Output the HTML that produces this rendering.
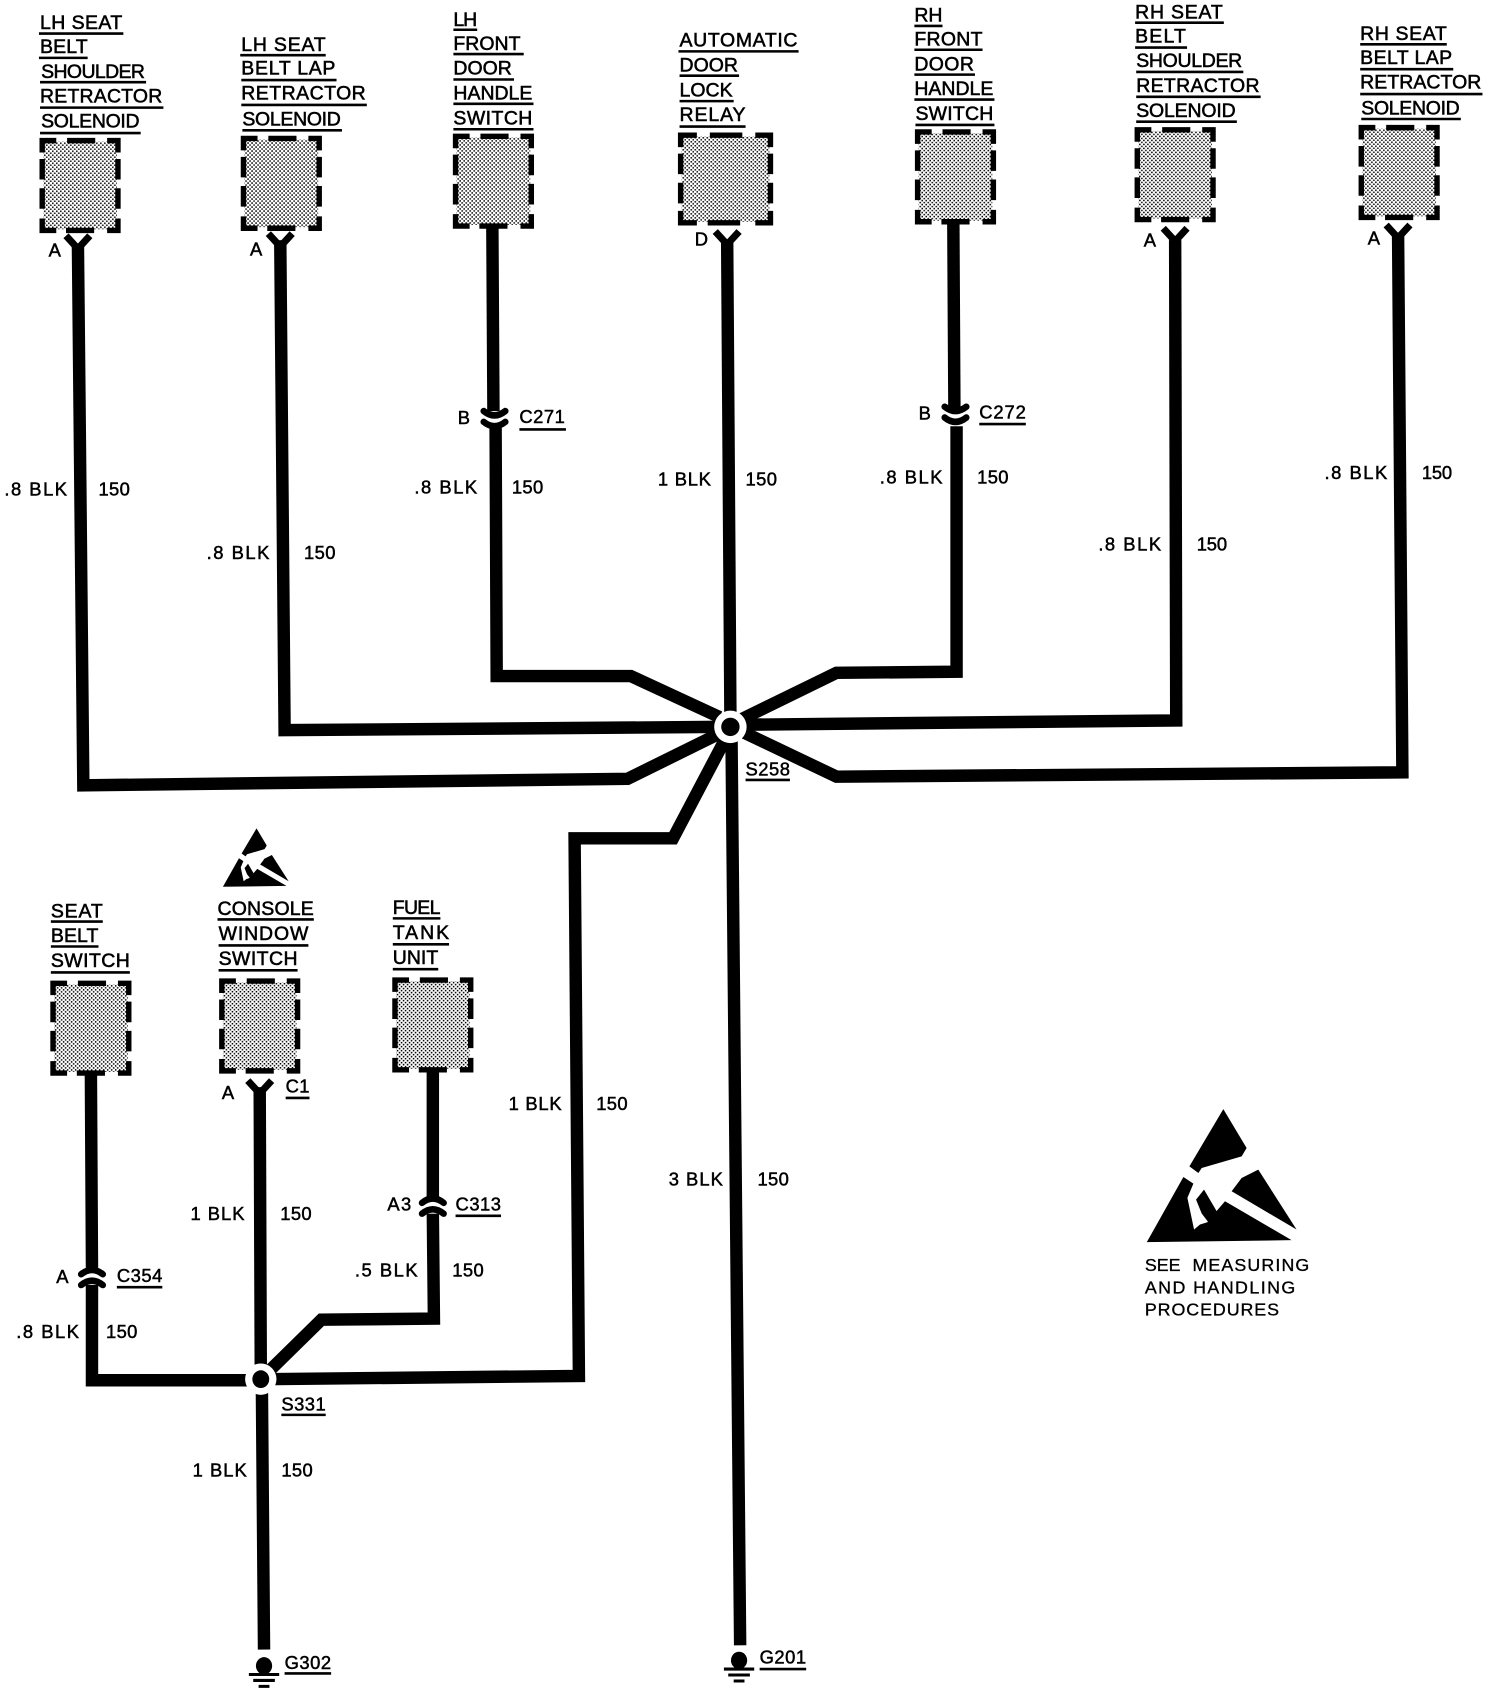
<!DOCTYPE html>
<html><head><meta charset="utf-8"><title>Wiring diagram</title>
<style>
html,body{margin:0;padding:0;background:#fff;width:1504px;height:1696px;overflow:hidden}
svg{display:block}
text{font-family:"Liberation Sans",sans-serif;fill:#000;stroke:#000;stroke-width:.5}
.c text{font-size:18px}
.w text{font-size:17px;stroke-width:.45}
.n text{font-size:16.5px;stroke-width:.3}
.wire{fill:none;stroke:#000;stroke-width:11.5;stroke-linejoin:miter}
</style></head><body>
<svg width="1504" height="1696" viewBox="0 0 1389.9 1567.9" preserveAspectRatio="none" xmlns="http://www.w3.org/2000/svg">
<defs>
<pattern id="st" width="3.7" height="3.7" patternUnits="userSpaceOnUse">
<rect width="3.7" height="3.7" fill="#fff"/>
<rect x="0" y="0" width="1.4" height="1.4" fill="#000"/>
<rect x="1.85" y="1.85" width="1.4" height="1.4" fill="#000"/>
</pattern>
<g id="box">
<rect x="3" y="3" width="68" height="81" fill="url(#st)"/>
<path d="M2,13V2H15M25,2H51M62,2H72V13M2,19V38M72,19V38M2,46V65M72,46V65M2,74V85H15M24,85H50M62,85H72V74" fill="none" stroke="#000" stroke-width="5"/>
</g>
<g id="boxw">
<rect x="3" y="3" width="81" height="79" fill="url(#st)"/>
<path d="M2,13V2H17M29,2H59M71,2H85V13M2,19V38M85,19V38M2,46V65M85,46V65M2,72V83H17M27,83H57M71,83H85V72" fill="none" stroke="#000" stroke-width="5"/>
</g>
<path id="y" d="M-11,-8L0,4L11,-8" fill="none" stroke="#000" stroke-width="6.5"/>
<g id="cd" fill="none" stroke="#000" stroke-width="6" stroke-linecap="round"><path d="M-10,-7Q0,1 10,-7"/><path d="M-10,3Q0,11 10,3"/></g>
<g id="cu" fill="none" stroke="#000" stroke-width="6" stroke-linecap="round"><path d="M-10,7Q0,-1 10,7"/><path d="M-10,-3Q0,-11 10,-3"/></g>
<g id="gnd"><ellipse cx="0" cy="0" rx="7.5" ry="8" fill="#000"/><path d="M-14,8H14M-10,13.500H10M-5,19H5" stroke="#000" stroke-width="2.8" fill="none"/></g>
<g id="esd" fill="#000">
<path d="M310,58L380,175L365,200L245,235L235,250L208,230Z"/>
<path d="M415,240L530,420L335,305L365,265Z"/>
<path d="M80,458L190,262L220,282L202,325L222,420L240,405L262,398L285,370L315,335L515,452Z"/>
<path d="M228,330L252,300L290,365L265,398L245,372Z"/>
</g>
</defs>

<rect width="1389.9" height="1567.9" fill="#fff"/>

<!-- wires -->
<g class="wire">
<polyline points="72,225 77,726 580,720 665,678"/>
<polyline points="259,222 263,675 665,672"/>
<polyline points="455,208 456,380"/>
<polyline points="458,394 459,625 583,625 665,663"/>
<polyline points="672,222 675,662"/>
<polyline points="881,205 882,378"/>
<polyline points="884,394 884,621 773,622 685,665"/>
<polyline points="1086,222 1087,666 685,670"/>
<polyline points="1292,215 1296,714 773,718 685,676"/>
<polyline points="245,1275 535,1272 531,775 622,775 672,680"/>
<polyline points="676,680 684,1521"/>
<polyline points="84,992 85,1172"/>
<polyline points="85,1188 85,1276 235,1276"/>
<polyline points="240,1005 241,1268"/>
<polyline points="400,990 400,1108"/>
<polyline points="400,1122 401,1219 297,1220 243,1273"/>
<polyline points="242,1280 244,1525"/>
</g>

<!-- splices -->
<circle cx="675" cy="672" r="15" fill="#fff"/><circle cx="675" cy="672" r="8.500" fill="#000"/>
<circle cx="241" cy="1275" r="14.500" fill="#fff"/><ellipse cx="241" cy="1275" rx="7.800" ry="8.200" fill="#000"/>

<!-- boxes -->
<use href="#box" x="37" y="128"/>
<use href="#box" x="223" y="126"/>
<use href="#box" x="419" y="124"/>
<use href="#boxw" x="627" y="123"/>
<use href="#box" x="846" y="120"/>
<use href="#box" x="1049" y="118"/>
<use href="#box" x="1256" y="116"/>
<use href="#box" x="47" y="907"/>
<use href="#box" x="203" y="905"/>
<use href="#box" x="363" y="904"/>

<!-- connectors -->
<use href="#y" x="72" y="226"/>
<use href="#y" x="259" y="224"/>
<use href="#y" x="672" y="222"/>
<use href="#y" x="1086" y="219"/>
<use href="#y" x="1292" y="216"/>
<use href="#y" x="240" y="1007"/>
<use href="#cd" x="457" y="387"/>
<use href="#cd" x="883" y="383"/>
<use href="#cu" x="85" y="1181"/>
<use href="#cu" x="400" y="1115"/>

<!-- ground -->
<use href="#gnd" x="244" y="1540"/>
<use href="#gnd" x="683" y="1535"/>

<!-- ESD -->
<use href="#esd" transform="translate(1035.200,1007.500) scale(.3075)"/>
<use href="#esd" transform="translate(195.200,758) scale(.135)"/>

<!-- underlines -->
<path fill="none" stroke="#000" stroke-width="2.4" d="
M36,31H114M36,53.500H81M37,76H135M37,99.500H151M37,123H130
M222,51H301M223,74H311M223,97H339M224,120.500H316
M419,27.500H441M419,50H484M419,73.500H475M419,96H493M419,119.500H493
M627,47.500H738M628,70H683M628,93.500H678M628,117H689
M845,24H871M845,46H908M845,69H901M845,92H919M846,115.500H919
M1049,21H1131M1049,44H1097M1050,66.500H1149M1050,89.500H1165M1050,112.500H1143
M1257,41H1337M1257,64H1343M1257,87H1370M1258,110H1350
M47,852H95M47,875H91M47,899H120
M201,850H290M202,874H285M202,897H275
M363,849H407M363,873H415M363,896H405
M480,397H523M905,392H948M689,721H730M264,1015H286M421,1124H463M108,1190H150M260,1308H301M263,1547H306M702,1543H745"/>

<!-- component labels -->
<g class="c">
<text x="37" y="27" textLength="76">LH SEAT</text>
<text x="37" y="49" textLength="44">BELT</text>
<text x="38" y="72" textLength="96">SHOULDER</text>
<text x="37" y="95" textLength="113">RETRACTOR</text>
<text x="38" y="118" textLength="91">SOLENOID</text>
<text x="223" y="47" textLength="78">LH SEAT</text>
<text x="223" y="69" textLength="87">BELT LAP</text>
<text x="223" y="92" textLength="115">RETRACTOR</text>
<text x="224" y="116" textLength="91">SOLENOID</text>
<text x="419" y="24" textLength="22">LH</text>
<text x="419" y="46" textLength="62">FRONT</text>
<text x="419" y="69" textLength="54">DOOR</text>
<text x="419" y="92" textLength="73">HANDLE</text>
<text x="419" y="115" textLength="73">SWITCH</text>
<text x="628" y="43" textLength="109">AUTOMATIC</text>
<text x="628" y="66" textLength="54">DOOR</text>
<text x="628" y="89" textLength="49">LOCK</text>
<text x="628" y="112" textLength="61">RELAY</text>
<text x="845" y="20" textLength="26">RH</text>
<text x="845" y="42" textLength="63">FRONT</text>
<text x="845" y="65" textLength="55">DOOR</text>
<text x="845" y="88" textLength="73">HANDLE</text>
<text x="846" y="111" textLength="72">SWITCH</text>
<text x="1049" y="17" textLength="81">RH SEAT</text>
<text x="1049" y="39.500" textLength="47">BELT</text>
<text x="1050" y="62" textLength="98">SHOULDER</text>
<text x="1050" y="85" textLength="114">RETRACTOR</text>
<text x="1050" y="108" textLength="92">SOLENOID</text>
<text x="1257" y="37" textLength="80">RH SEAT</text>
<text x="1257" y="59" textLength="85">BELT LAP</text>
<text x="1257" y="82" textLength="112">RETRACTOR</text>
<text x="1258" y="106" textLength="91">SOLENOID</text>
<text x="47" y="848" textLength="48">SEAT</text>
<text x="47" y="871" textLength="44">BELT</text>
<text x="47" y="894" textLength="73">SWITCH</text>
<text x="201" y="846" textLength="89">CONSOLE</text>
<text x="202" y="869" textLength="83">WINDOW</text>
<text x="202" y="892" textLength="73">SWITCH</text>
<text x="363" y="845" textLength="44">FUEL</text>
<text x="363" y="868" textLength="52">TANK</text>
<text x="363" y="891" textLength="42">UNIT</text>
</g>

<!-- wire labels -->
<g class="w">
<text x="4" y="458" textLength="58">.8 BLK</text><text x="91" y="458" textLength="29">150</text>
<text x="191" y="517" textLength="58">.8 BLK</text><text x="281" y="517" textLength="29">150</text>
<text x="423" y="392" textLength="11">B</text><text x="480" y="391" textLength="42">C271</text>
<text x="383" y="456" textLength="58">.8 BLK</text><text x="473" y="456" textLength="29">150</text>
<text x="608" y="449" textLength="49">1 BLK</text><text x="689" y="449" textLength="29">150</text>
<text x="849" y="388" textLength="11">B</text><text x="905" y="387" textLength="43">C272</text>
<text x="813" y="447" textLength="58">.8 BLK</text><text x="903" y="447" textLength="29">150</text>
<text x="1015" y="509" textLength="58">.8 BLK</text><text x="1106" y="509" textLength="28">150</text>
<text x="1224" y="443" textLength="58">.8 BLK</text><text x="1314" y="443" textLength="28">150</text>
<text x="689" y="717" textLength="41">S258</text>
<text x="45" y="237" textLength="12">A</text>
<text x="231" y="236" textLength="12">A</text>
<text x="642" y="227" textLength="11">D</text>
<text x="1057" y="228" textLength="12">A</text>
<text x="1264" y="226" textLength="12">A</text>
<text x="205" y="1016" textLength="12">A</text><text x="264" y="1010" textLength="22">C1</text>
<text x="470" y="1026" textLength="49">1 BLK</text><text x="551" y="1026" textLength="29">150</text>
<text x="618" y="1096" textLength="50">3 BLK</text><text x="700" y="1096" textLength="29">150</text>
<text x="176" y="1128" textLength="50">1 BLK</text><text x="259" y="1128" textLength="29">150</text>
<text x="358" y="1119" textLength="22">A3</text><text x="421" y="1119" textLength="42">C313</text>
<text x="328" y="1180" textLength="58">.5 BLK</text><text x="418" y="1180" textLength="29">150</text>
<text x="52" y="1186" textLength="12">A</text><text x="108" y="1185" textLength="42">C354</text>
<text x="15" y="1237" textLength="58">.8 BLK</text><text x="98" y="1237" textLength="29">150</text>
<text x="260" y="1304" textLength="41">S331</text>
<text x="178" y="1365" textLength="50">1 BLK</text><text x="260" y="1365" textLength="29">150</text>
<text x="263" y="1543" textLength="43">G302</text>
<text x="702" y="1538" textLength="43">G201</text>
</g>

<!-- note -->
<g class="n">
<text x="1058" y="1175" textLength="33">SEE</text><text x="1102" y="1175" textLength="108">MEASURING</text>
<text x="1058" y="1196" textLength="139">AND HANDLING</text>
<text x="1058" y="1216" textLength="124">PROCEDURES</text>
</g>
</svg>
</body></html>
